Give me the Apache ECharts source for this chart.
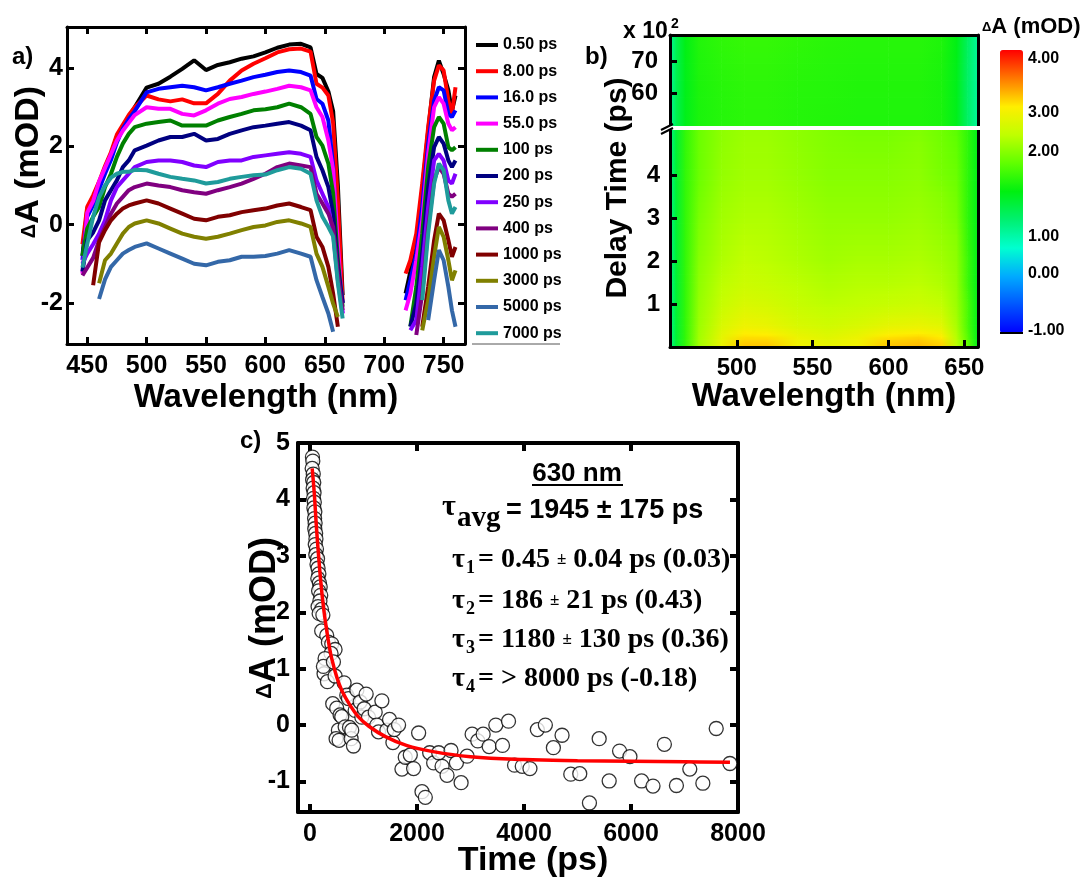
<!DOCTYPE html>
<html>
<head>
<meta charset="utf-8">
<script src="https://cdn.jsdelivr.net/npm/echarts@6.0.0/dist/echarts.min.js"></script>
<style>
html,body{margin:0;padding:0;background:#fff;}
#chart{width:1091px;height:881px;}
</style>
</head>
<body>
<div id="chart"></div>
<script>
// ---------------- Panel a: transient spectra ----------------
const delayLabels = ['0.50 ps','8.00 ps','16.0 ps','55.0 ps','100 ps','200 ps','250 ps','400 ps','1000 ps','3000 ps','5000 ps','7000 ps'];
const spectraColors = ['#000000','#ff0000','#0000ff','#ff00ff','#008000','#000080','#8000ff','#800080','#800000','#808000','#3468a8','#1f9b9b'];
const wavelengthsVis = [446,450,455,460,465,470,475,480,485,490,500,510,520,530,540,550,560,570,580,590,600,610,620,630,638,643,648,653,657,661,665];
const wavelengthsNIR = [718,722,727,732,737,742,746,750,754,757,760];

const dA_0p50_vis = [-0.8,0.4,0.7,1.05,1.45,1.8,2.25,2.5,2.75,3.0,3.5,3.6,3.78,3.98,4.2,3.95,4.08,4.15,4.24,4.3,4.4,4.52,4.6,4.62,4.53,3.85,3.75,3.4,2.9,1.0,-1.8];
const dA_8p00_vis = [-0.5,0.45,0.75,1.1,1.5,1.85,2.3,2.55,2.8,3.0,3.3,3.2,3.15,3.2,3.1,3.1,3.34,3.68,3.94,4.11,4.25,4.4,4.48,4.5,4.42,3.6,3.5,3.3,2.6,0.6,-2.0];
const dA_16p0_vis = [-0.9,0.2,0.5,0.9,1.3,1.65,2.1,2.45,2.7,2.9,3.38,3.47,3.51,3.55,3.51,3.43,3.51,3.6,3.68,3.77,3.83,3.9,3.94,3.9,3.81,3.21,3.09,2.66,1.5,-0.9,-2.0];
const dA_55p0_vis = [-1.25,0.3,0.6,1.1,1.45,1.8,2.15,2.4,2.6,2.8,3.0,2.96,2.96,2.83,2.79,2.92,3.09,3.21,3.26,3.34,3.4,3.47,3.55,3.51,3.43,3.0,2.75,2.15,1.4,-0.5,-2.27];
const dA_100_vis  = [-0.8,-0.1,0.2,0.45,0.96,1.3,1.73,2.07,2.32,2.49,2.58,2.62,2.66,2.53,2.53,2.53,2.66,2.75,2.83,2.92,2.95,3.0,3.09,3.0,2.83,2.24,2.02,1.56,0.8,-0.9,-2.1];
const dA_200_vis  = [-1.2,-0.4,-0.2,0.11,0.62,0.88,1.13,1.47,1.64,1.9,2.02,2.15,2.24,2.24,2.32,2.15,2.19,2.32,2.41,2.49,2.53,2.58,2.62,2.53,2.41,1.73,1.39,0.96,0.28,-1.08,-2.0];
const dA_250_vis  = [-1.0,-0.74,-0.5,-0.23,0.11,0.62,0.96,1.13,1.3,1.47,1.6,1.64,1.64,1.6,1.51,1.47,1.6,1.64,1.64,1.73,1.77,1.81,1.85,1.81,1.73,1.13,0.79,0.45,-0.23,-1.42,-2.27];
const dA_400_vis  = [-1.3,-1.1,-0.85,-0.4,-0.06,0.28,0.54,0.71,0.88,0.96,1.05,1.0,0.96,0.88,0.83,0.79,0.88,0.96,1.05,1.17,1.3,1.47,1.56,1.51,1.47,0.79,0.54,0.28,-0.06,-1.25,-2.19];
const dA_1000_vis = [null,null,-1.55,-0.45,-0.14,0.11,0.28,0.41,0.49,0.54,0.62,0.54,0.41,0.28,0.15,0.11,0.2,0.24,0.32,0.37,0.41,0.49,0.54,0.45,0.37,-0.31,-0.57,-1.08,-1.76,-2.61,null];
const dA_3000_vis = [null,null,null,-1.5,-0.91,-0.74,-0.48,-0.23,-0.06,0.03,0.11,0.03,-0.1,-0.23,-0.31,-0.36,-0.31,-0.23,-0.14,-0.06,-0.02,0.07,0.11,0.03,-0.06,-0.74,-1.08,-1.59,-2.02,-2.36,null];
const dA_5000_vis = [null,null,null,-1.9,-1.4,-1.08,-0.91,-0.74,-0.65,-0.57,-0.48,-0.61,-0.74,-0.87,-1.0,-1.04,-0.95,-0.91,-0.82,-0.82,-0.8,-0.74,-0.65,-0.74,-0.82,-1.42,-1.85,-2.27,-2.74,null,null];
const dA_7000_vis = [-1.1,-0.5,0.2,0.7,1.0,1.2,1.3,1.35,1.35,1.4,1.39,1.3,1.22,1.17,1.13,1.05,1.09,1.17,1.22,1.26,1.28,1.39,1.47,1.43,1.3,0.62,0.2,-0.06,-0.3,-1.5,-2.4];

const dA_0p50_nir = [-1.76,-1.2,-0.5,0.9,2.4,3.77,4.19,3.85,3.43,2.9,3.3];
const dA_8p00_nir = [-1.25,-0.91,-0.23,1.05,2.49,3.68,4.07,3.94,3.17,2.83,3.51];
const dA_16p0_nir = [-1.93,-1.42,-0.74,0.45,2.07,3.17,3.51,3.43,2.83,2.75,2.92];
const dA_55p0_nir = [-2.19,-1.76,-0.91,0.11,1.81,3.0,3.26,3.09,2.58,2.41,2.49];
const dA_100_nir  = [null,-2.6,-1.59,-0.23,1.47,2.49,2.75,2.58,1.98,1.9,1.98];
const dA_200_nir  = [null,-2.61,-2.02,-0.74,0.96,1.98,2.24,2.07,1.64,1.47,1.64];
const dA_250_nir  = [null,-2.7,-2.44,-1.08,0.45,1.64,1.81,1.64,1.13,1.05,1.3];
const dA_400_nir  = [null,null,-2.82,-1.76,-0.06,1.13,1.47,1.3,0.79,0.71,0.79];
const dA_1000_nir = [null,null,null,-2.61,-1.59,-0.4,0.28,0.11,-0.4,-0.82,-0.57];
const dA_3000_nir = [null,null,null,-2.7,-1.93,-0.82,-0.06,-0.31,-0.91,-1.42,-1.17];
const dA_5000_nir = [null,null,null,null,-2.44,-1.42,-0.65,-0.91,-1.59,-2.19,-2.61];
const dA_7000_nir = [null,null,null,-1.93,-0.23,1.05,1.56,1.39,0.62,0.28,0.45];

const spectraVis = [dA_0p50_vis,dA_8p00_vis,dA_16p0_vis,dA_55p0_vis,dA_100_vis,dA_200_vis,dA_250_vis,dA_400_vis,dA_1000_vis,dA_3000_vis,dA_5000_vis,dA_7000_vis];
const spectraNIR = [dA_0p50_nir,dA_8p00_nir,dA_16p0_nir,dA_55p0_nir,dA_100_nir,dA_200_nir,dA_250_nir,dA_400_nir,dA_1000_nir,dA_3000_nir,dA_5000_nir,dA_7000_nir];

const waveTicksA = [450,500,550,600,650,700,750];
const dATicksA = [-2,0,2,4];

// ---------------- Panel b: 2D map ----------------
const mapWavelengths = [456,460,466,475,490,505,520,540,560,580,600,620,635,645,652,659];
const mapDelayLow = [0,0.2,0.5,1.0,1.5,2.0,3.0,4.0,5.05];       // x10^2 ps
const mapDelayHigh = [50,64,78];                                 // x10^2 ps
const mapLow_t0p0  = [1.1,1.4,1.7,2.2,2.9,3.3,3.3,3.0,2.9,3.0,3.3,3.35,3.25,2.4,1.9,1.5];
const mapLow_t0p2  = [1.1,1.4,1.7,2.2,2.85,3.2,3.2,2.95,2.8,2.95,3.2,3.25,3.15,2.35,1.85,1.5];
const mapLow_t0p5  = [1.1,1.4,1.7,2.15,2.7,2.95,2.9,2.7,2.6,2.7,2.85,2.9,2.8,2.25,1.8,1.5];
const mapLow_t1p0  = [1.1,1.4,1.7,2.1,2.5,2.7,2.65,2.5,2.4,2.45,2.5,2.55,2.45,2.15,1.8,1.5];
const mapLow_t1p5  = [1.1,1.4,1.7,2.05,2.4,2.55,2.5,2.4,2.3,2.35,2.35,2.4,2.3,2.1,1.75,1.5];
const mapLow_t2p0  = [1.1,1.4,1.7,2.0,2.3,2.45,2.4,2.3,2.2,2.25,2.25,2.3,2.2,2.05,1.75,1.5];
const mapLow_t3p0  = [1.1,1.4,1.7,1.95,2.2,2.3,2.3,2.2,2.1,2.1,2.1,2.15,2.05,1.95,1.7,1.5];
const mapLow_t4p0  = [1.1,1.4,1.7,1.9,2.1,2.2,2.2,2.1,2.0,2.0,2.0,2.05,1.95,1.9,1.7,1.5];
const mapLow_t5p0  = [1.1,1.4,1.7,1.9,2.05,2.15,2.15,2.05,1.98,1.95,1.95,1.98,1.92,1.85,1.7,1.5];
const mapHigh_t50  = [1.05,1.3,1.5,1.62,1.66,1.68,1.68,1.66,1.65,1.64,1.64,1.64,1.62,1.5,1.25,1.05];
const mapHigh_t64  = [1.05,1.3,1.5,1.63,1.67,1.69,1.69,1.67,1.66,1.65,1.65,1.65,1.62,1.5,1.25,1.05];
const mapHigh_t78  = [1.05,1.3,1.52,1.65,1.7,1.72,1.72,1.7,1.68,1.67,1.67,1.67,1.64,1.52,1.27,1.05];
const mapLow = [mapLow_t0p0,mapLow_t0p2,mapLow_t0p5,mapLow_t1p0,mapLow_t1p5,mapLow_t2p0,mapLow_t3p0,mapLow_t4p0,mapLow_t5p0];
const mapHigh = [mapHigh_t50,mapHigh_t64,mapHigh_t78];
const waveTicksB = [500,550,600,650];
const delayTicksHigh = [60,70];
const delayTicksLow = [1,2,3,4];
const colorbarTicks = [4,3,2,1,0,-1];
const colorbarTickLabels = ['4.00','3.00','2.00','1.00','0.00','-1.00'];

// ---------------- Panel c: kinetics at 630 nm ----------------
const decayTime = [45,52,40,60,48,70,58,75,65,80,72,90,85,95,88,105,110,98,120,108,140,130,150,165,145,175,190,160,200,185,150,215,170,240,
 218,312,343,406,468,393,281,262,250,325,437,468,424,499,530,487,543,562,593,637,687,718,656,737,768,780,812,843,875,937,968,1012,1049,1093,1218,1249,1280,1343,1436,1486,1549,1574,1655,
 1718,1780,1874,1936,2030,2093,2155,2236,2311,2405,2468,2561,2636,2736,2824,2936,3030,3136,3236,3348,3473,3598,3710,3823,3967,4111,4249,4399,4549,4711,4874,5042,5223,5405,5592,5786,5980,6198,6411,6624,6849,7099,7343,7593,7849];
const decayDA = [4.75,4.68,4.55,4.45,4.35,4.3,4.2,4.12,4.02,3.95,3.85,3.78,3.66,3.58,3.48,3.4,3.3,3.2,3.12,3.02,2.95,2.85,2.78,2.68,2.6,2.52,2.45,2.38,2.3,2.2,2.1,2.05,1.98,1.95,
 1.67,1.59,1.47,1.44,1.34,1.27,1.18,0.91,1.04,0.77,1.12,0.87,0.38,0.30,-0.09,-0.24,-0.27,0.18,0.15,0.75,0.53,0.47,-0.03,-0.04,-0.24,-0.09,-0.37,0.26,0.62,0.41,0.14,0.29,0.55,0.14,0.23,0.0,-0.12,0.43,-0.09,0.10,-0.31,-0.08,0.0,
 -0.78,-0.57,-0.53,-0.77,-0.14,-1.18,-1.28,-0.49,-0.67,-0.49,-0.73,-0.89,-0.45,-0.67,-1.02,-0.55,-0.16,-0.28,-0.16,-0.38,0.0,-0.36,0.07,-0.71,-0.73,-0.77,-0.08,0.0,-0.40,-0.18,-0.87,-0.86,-1.38,-0.24,-0.99,-0.46,-0.56,-0.99,-1.08,-0.34,-1.07,-0.78,-1.03,-0.06,-0.68];
const fitTime = [40,80,120,160,200,250,300,350,400,500,600,750,900,1100,1400,1800,2300,3000,4000,5000,6000,7000,7850];
const fitDA   = [4.55,4.1,3.5,3.0,2.55,2.1,1.75,1.45,1.2,0.85,0.6,0.35,0.15,-0.02,-0.2,-0.36,-0.47,-0.56,-0.61,-0.63,-0.64,-0.65,-0.66];
const timeTicksC = [0,2000,4000,6000,8000];
const timeTicksTop = [0,2000,4000,6000];
const dATicksC = [-1,0,1,2,3,4,5];
const dATicksCRight = [-1,0,1,2,3,4];

// ---------------- styling ----------------
const FONT = 'Liberation Sans';
const SERIF = 'Liberation Serif';
const barColors = ['#0000ff','#0055ff','#00aaff','#00ffd0','#00f070','#00f010','#60ff00','#c0ff00','#ffee00','#ff7800','#ff0000'];
const colorbarTickFrac = [0.97,0.78,0.64,0.34,0.21,0.01]; // label positions along the colour bar
const CB = {left:1000, top:50, width:23, height:283};

function valueToFrac(v) {
  const t = colorbarTicks.slice().reverse(), f = colorbarTickFrac.slice().reverse();
  if (v <= t[0]) return f[0];
  for (let i = 1; i < t.length; i++) {
    if (v <= t[i]) return f[i-1] + (f[i]-f[i-1]) * (v - t[i-1]) / (t[i]-t[i-1]);
  }
  return f[f.length-1];
}
function colorOf(v) { return echarts.color.lerp(Math.max(0, Math.min(1, valueToFrac(v))), barColors); }

function vAxis(o) {
  return {
    type: 'value', gridIndex: o.grid, position: o.pos, min: o.min, max: o.max,
    splitLine: {show: false},
    axisLine: {show: true, onZero: false, lineStyle: {color: '#000', width: o.lw || 3}},
    axisTick: {show: !!o.ticks, inside: true, length: o.tl || 7, lineStyle: {color: '#000', width: o.lw || 3}, customValues: o.ticks},
    axisLabel: {show: !!o.labels, customValues: o.labels, margin: o.margin || 8, color: '#000', fontFamily: FONT, fontWeight: 'bold', fontSize: o.fs || 24, formatter: v => String(v)},
    axisPointer: {show: false}
  };
}

function toPairs(xs, ys) { return xs.map((x, i) => [x, ys[i] == null ? '-' : ys[i]]); }
function spectrumData(k) {
  return toPairs(wavelengthsVis, spectraVis[k]).concat([[700, '-']]).concat(toPairs(wavelengthsNIR, spectraNIR[k]));
}
function mapCells(waves, delays, rows) {
  const cells = [];
  for (let r = 0; r < delays.length - 1; r++)
    for (let c = 0; c < waves.length - 1; c++)
      cells.push([waves[c], waves[c+1], delays[r], delays[r+1], rows[r][c], rows[r][c+1], rows[r+1][c], rows[r+1][c+1]]);
  return cells;
}
function renderCell(params, api) {
  const l0 = api.value(0), l1 = api.value(1), t0 = api.value(2), t1 = api.value(3);
  const v00 = api.value(4), v01 = api.value(5), v10 = api.value(6), v11 = api.value(7);
  const p0 = api.coord([l0, t0]), p1 = api.coord([l1, t1]);
  const K = 8, children = [];
  for (let k = 0; k < K; k++) {
    const s = (k + 0.5) / K;
    const vl = v00 + (v10 - v00) * s, vr = v01 + (v11 - v01) * s;
    const ya = p0[1] + (p1[1] - p0[1]) * k / K, yb = p0[1] + (p1[1] - p0[1]) * (k + 1) / K;
    children.push({
      type: 'rect',
      shape: {x: p0[0] - 0.3, y: Math.min(ya, yb) - 0.4, width: p1[0] - p0[0] + 0.6, height: Math.abs(yb - ya) + 0.8},
      style: {fill: new echarts.graphic.LinearGradient(0, 0, 1, 0, [{offset: 0, color: colorOf(vl)}, {offset: 1, color: colorOf(vr)}])}
    });
  }
  return {type: 'group', children};
}

function txt(x, y, text, o) {
  o = o || {};
  return {
    type: 'text', x, y, rotation: o.rot || 0, z: 100,
    style: {
      text, fill: '#000', fontFamily: o.ff || FONT, fontWeight: 'bold', fontSize: o.fs || 24,
      align: o.align || 'left', textAlign: o.align || 'left', verticalAlign: 'middle', textVerticalAlign: 'middle',
      rich: o.rich
    }
  };
}
const deltaRich = (fs, ds) => ({d: {fontFamily: FONT, fontWeight: 'bold', fontSize: ds}, m: {fontFamily: FONT, fontWeight: 'bold', fontSize: fs}});

// ---------------- build option ----------------
const series = [];
delayLabels.forEach((name, k) => {
  series.push({
    type: 'line', name, xAxisIndex: 0, yAxisIndex: 0, data: spectrumData(k),
    showSymbol: false, connectNulls: false, color: spectraColors[k],
    lineStyle: {width: 4, color: spectraColors[k]}, itemStyle: {color: spectraColors[k]},
    emphasis: {disabled: true}, z: 2
  });
});
const mapHighIndex = series.length;
series.push({type: 'custom', xAxisIndex: 2, yAxisIndex: 2, clip: true, z: -1, encode: {x: [0, 1], y: [2, 3]},
  data: mapCells(mapWavelengths, mapDelayHigh, mapHigh), renderItem: renderCell, silent: true});
const mapLowIndex = series.length;
series.push({type: 'custom', xAxisIndex: 3, yAxisIndex: 4, clip: true, z: -1, encode: {x: [0, 1], y: [2, 3]},
  data: mapCells(mapWavelengths, mapDelayLow, mapLow), renderItem: renderCell, silent: true});
series.push({type: 'scatter', xAxisIndex: 4, yAxisIndex: 6, data: toPairs(decayTime, decayDA),
  symbol: 'circle', symbolSize: 14, itemStyle: {color: '#ffffff', borderColor: '#000', borderWidth: 1.3}, z: 3, silent: true});
series.push({type: 'line', xAxisIndex: 4, yAxisIndex: 6, data: toPairs(fitTime, fitDA), smooth: 0.4,
  showSymbol: false, lineStyle: {color: '#ff0000', width: 3.5}, z: 4, silent: true});

const graphics = [
  txt(12, 57, 'a)', {fs: 24}),
  txt(585, 57, 'b)', {fs: 24}),
  txt(240, 441, 'c)', {fs: 24}),
  // panel a y title
  txt(29, 162, '{d|Δ}{m|A (mOD)}', {fs: 34, rot: Math.PI / 2, align: 'center', rich: deltaRich(34, 20)}),
  // panel b
  txt(618, 188, 'Delay Time (ps)', {fs: 30, rot: Math.PI / 2, align: 'center'}),
  txt(623, 32, 'x 10', {fs: 23}),
  txt(671, 24, '2', {fs: 14}),
  {type: 'rect', z: 99, shape: {x: 668, y: 126, width: 313, height: 4}, style: {fill: '#fff'}},
  {type: 'line', z: 101, shape: {x1: 661, y1: 130, x2: 673, y2: 124}, style: {stroke: '#000', lineWidth: 2}},
  {type: 'line', z: 101, shape: {x1: 661, y1: 134, x2: 673, y2: 128}, style: {stroke: '#000', lineWidth: 2}},
  txt(982, 27, '{d|Δ}{m|A (mOD)}', {fs: 22, rich: deltaRich(22, 13)}),
  {type: 'line', z: 101, shape: {x1: CB.left, y1: CB.top + CB.height, x2: CB.left + CB.width, y2: CB.top + CB.height}, style: {stroke: '#000', lineWidth: 2}},
  // legend underline
  {type: 'line', z: 101, shape: {x1: 472, y1: 344, x2: 560, y2: 344}, style: {stroke: '#555', lineWidth: 1}},
  // panel c titles
  txt(265, 618, '{d|Δ}{m|A (mOD)}', {fs: 36, rot: Math.PI / 2, align: 'center', rich: deltaRich(36, 22)}),
  txt(533, 861, 'Time (ps)', {fs: 34, align: 'center'}),
  txt(577, 474, '630 nm', {fs: 26, align: 'center'}),
  {type: 'line', z: 101, shape: {x1: 532, y1: 485, x2: 623, y2: 485}, style: {stroke: '#000', lineWidth: 2}},
  txt(442, 507, 'τ', {fs: 30, ff: SERIF}),
  txt(457, 519, 'avg', {fs: 29, ff: SERIF}),
  txt(506, 511, '= 1945 ± 175 ps', {fs: 27})
];
colorbarTickLabels.forEach((lab, i) => {
  graphics.push(txt(1028, CB.top + CB.height - colorbarTickFrac[i] * CB.height, lab, {fs: 16}));
});
const tauRows = [
  {y: 560, sub: '1', rest: '= 0.45 {pm|±} 0.04 ps (0.03)'},
  {y: 601, sub: '2', rest: '= 186 {pm|±} 21 ps (0.43)'},
  {y: 640, sub: '3', rest: '= 1180 {pm|±} 130 ps (0.36)'},
  {y: 679, sub: '4', rest: '= > 8000 ps (-0.18)'}
];
tauRows.forEach(r => {
  graphics.push(txt(452, r.y, 'τ', {fs: 28, ff: SERIF}));
  graphics.push(txt(466, r.y + 8, r.sub, {fs: 18, ff: SERIF}));
  graphics.push(txt(478, r.y, r.rest, {fs: 28, ff: SERIF,
    rich: {pm: {fontFamily: SERIF, fontWeight: 'bold', fontSize: 17}}}));
});

const option = {
  animation: false,
  backgroundColor: '#ffffff',
  grid: [
    {left: 67, top: 27, width: 398, height: 317, containLabel: false, outerBoundsMode: 'none'},
    {left: 670, top: 35, width: 308, height: 91, containLabel: false, outerBoundsMode: 'none'},
    {left: 670, top: 130, width: 308, height: 217, containLabel: false, outerBoundsMode: 'none'},
    {left: 298, top: 443, width: 440, height: 369, containLabel: false, outerBoundsMode: 'none'}
  ],
  xAxis: [
    Object.assign(vAxis({grid: 0, pos: 'bottom', min: 433, max: 768, ticks: waveTicksA, labels: waveTicksA, margin: 10, fs: 25}),
      {name: 'Wavelength (nm)', nameLocation: 'middle', nameGap: 37, nameTextStyle: {color: '#000', fontFamily: FONT, fontWeight: 'bold', fontSize: 33}}),
    vAxis({grid: 0, pos: 'top', min: 433, max: 768, ticks: waveTicksA}),
    vAxis({grid: 1, pos: 'top', min: 456, max: 659}),
    Object.assign(vAxis({grid: 2, pos: 'bottom', min: 456, max: 659, ticks: waveTicksB, labels: waveTicksB, margin: 9, fs: 24}),
      {name: 'Wavelength (nm)', nameLocation: 'middle', nameGap: 24, nameTextStyle: {color: '#000', fontFamily: FONT, fontWeight: 'bold', fontSize: 33}}),
    vAxis({grid: 3, pos: 'bottom', min: -225, max: 8000, ticks: timeTicksC, labels: timeTicksC, margin: 10, fs: 25, lw: 4, tl: 8}),
    vAxis({grid: 3, pos: 'top', min: -225, max: 8000, ticks: timeTicksTop, lw: 4, tl: 8})
  ],
  yAxis: [
    vAxis({grid: 0, pos: 'left', min: -3.05, max: 5.05, ticks: dATicksA, labels: dATicksA, margin: 4, fs: 25}),
    vAxis({grid: 0, pos: 'right', min: -3.05, max: 5.05, ticks: dATicksA}),
    vAxis({grid: 1, pos: 'left', min: 50, max: 78, ticks: delayTicksHigh, labels: delayTicksHigh, margin: 12, fs: 24}),
    vAxis({grid: 1, pos: 'right', min: 50, max: 78}),
    vAxis({grid: 2, pos: 'left', min: 0, max: 5.05, ticks: delayTicksLow, labels: delayTicksLow, margin: 10, fs: 24}),
    vAxis({grid: 2, pos: 'right', min: 0, max: 5.05}),
    vAxis({grid: 3, pos: 'left', min: -1.54, max: 5, ticks: dATicksC, labels: dATicksC, margin: 8, fs: 25, lw: 4, tl: 8}),
    vAxis({grid: 3, pos: 'right', min: -1.54, max: 5, ticks: dATicksCRight, lw: 4, tl: 8})
  ],
  legend: {
    data: delayLabels, orient: 'vertical', left: 476, top: 37, padding: 0,
    itemWidth: 22, itemHeight: 16, itemGap: 10.2, symbolKeepAspect: true,
    icon: 'path://M0,0H22V4H0Z', selectedMode: false,
    textStyle: {color: '#000', fontFamily: FONT, fontWeight: 'bold', fontSize: 16, lineHeight: 16}
  },
  visualMap: {
    type: 'continuous', min: 0, max: 1, seriesIndex: [mapHighIndex, mapLowIndex], dimension: 4,
    inRange: {color: barColors}, calculable: false, orient: 'vertical', padding: 0,
    left: CB.left, top: CB.top, itemWidth: CB.width, itemHeight: CB.height, hoverLink: false
  },
  graphic: graphics,
  series
};

const chart = echarts.init(document.getElementById('chart'), null, {renderer: 'canvas'});
chart.setOption(option);
</script>
</body>
</html>
